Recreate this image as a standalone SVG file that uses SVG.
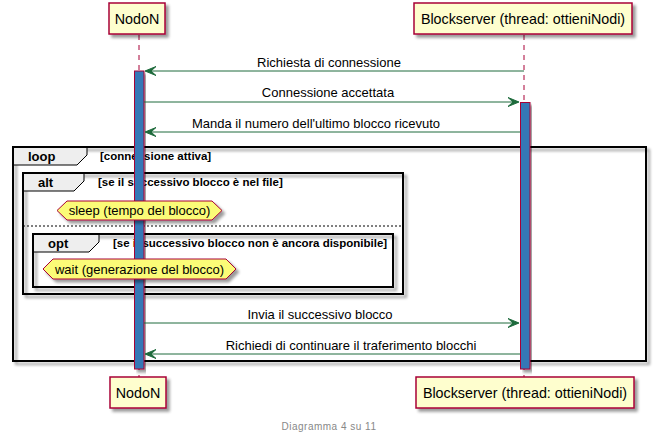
<svg xmlns="http://www.w3.org/2000/svg" width="655" height="441" viewBox="0 0 655 441">
<style>
.box{fill:#FEFECE;stroke:#A80036;stroke-width:1.5}
.pt{font-family:"Liberation Sans",Arial,sans-serif;font-size:14.3px;fill:#000}
.life{stroke:#A80036;stroke-width:1;stroke-dasharray:5,5}
.act{fill:#3478B6;stroke:#A80036;stroke-width:1}
.msg{stroke:#1E6B3C;stroke-width:1;fill:none}
.head{fill:#1E6B3C;stroke:#1E6B3C;stroke-width:1}
.mt{font-family:"Liberation Sans",Arial,sans-serif;font-size:13px;fill:#000}
.frame{fill:none;stroke:#000;stroke-width:2}
.tab{fill:#EEEEEE;stroke:#000;stroke-width:1}
.ft{font-family:"Liberation Sans",Arial,sans-serif;font-size:13px;font-weight:bold;fill:#000}
.ct{font-family:"Liberation Sans",Arial,sans-serif;font-size:11.5px;font-weight:bold;fill:#000}
.hex{fill:#FBFB77;stroke:#A80036;stroke-width:1}
.ht{font-family:"Liberation Sans",Arial,sans-serif;font-size:13px;fill:#000}
</style>
<defs>
<filter id="sh" x="-10%" y="-10%" width="130%" height="140%">
<feGaussianBlur in="SourceAlpha" stdDeviation="1.5"/>
<feOffset dx="3" dy="3" result="o"/>
<feComponentTransfer><feFuncA type="linear" slope="0.4"/></feComponentTransfer>
<feMerge><feMergeNode/><feMergeNode in="SourceGraphic"/></feMerge>
</filter>
</defs>
<rect width="655" height="441" fill="#fff"/>
<g id="lifelines">
<line class="life" x1="139" y1="35" x2="139" y2="377"/>
<line class="life" x1="524" y1="35" x2="524" y2="377"/>
</g>
<g id="frames">
<g id="loop">
<rect class="frame" x="13" y="147" width="633" height="214" filter="url(#sh)"/>
<path class="tab" d="M13,147 L87,147 L87,155 L77,165 L13,165 Z"/>
<rect class="frame" x="13" y="147" width="633" height="214"/>
<text class="ft" x="28" y="161">loop</text>
<text class="ct" x="100" y="160">[connessione attiva]</text>
</g>
<g id="alt">
<rect class="frame" x="23" y="173" width="380" height="121" fill="#fff" filter="url(#sh)"/>
<path class="tab" d="M23,173 L84,173 L84,181 L74,191 L23,191 Z"/>
<rect class="frame" x="23" y="173" width="380" height="121"/>
<text class="ft" x="38" y="187">alt</text>
<text class="ct" x="98" y="186">[se il successivo blocco è nel file]</text>
<line x1="23" y1="226" x2="403" y2="226" stroke="#000" stroke-width="1" stroke-dasharray="2,2"/>
</g>
<g id="opt">
<rect class="frame" x="33" y="234" width="360" height="53" filter="url(#sh)"/>
<path class="tab" d="M33,234 L99,234 L99,242 L89,252 L33,252 Z"/>
<rect class="frame" x="33" y="234" width="360" height="53"/>
<text class="ft" x="48" y="248">opt</text>
<text class="ct" x="113" y="247">[se il successivo blocco non è ancora disponibile]</text>
</g>
</g>
<g id="activations">
<rect class="act" x="134.5" y="71" width="9.5" height="298" filter="url(#sh)"/>
<rect class="act" x="520.5" y="102.5" width="9.5" height="266.5" filter="url(#sh)"/>
</g>
<g id="NodoN">
<rect class="box" x="109" y="3" width="56" height="31" filter="url(#sh)"/>
<text class="pt" x="137" y="24" text-anchor="middle">NodoN</text>
<rect class="box" x="110" y="377" width="56" height="31" filter="url(#sh)"/>
<text class="pt" x="138" y="398" text-anchor="middle">NodoN</text>
</g>
<g id="Blockserver">
<rect class="box" x="414" y="3" width="218" height="31" filter="url(#sh)"/>
<text class="pt" x="523" y="24" text-anchor="middle">Blockserver (thread: ottieniNodi)</text>
<rect class="box" x="416" y="377" width="218" height="31" filter="url(#sh)"/>
<text class="pt" x="525" y="398" text-anchor="middle">Blockserver (thread: ottieniNodi)</text>
</g>
<g id="connectors">
<line class="msg" x1="524" y1="71" x2="146" y2="71"/>
<polygon class="head" points="145,71 156,66.5 151,71 156,75.5"/>
<text class="mt" x="329" y="67" text-anchor="middle">Richiesta di connessione</text>
<line class="msg" x1="144" y1="102" x2="518" y2="102"/>
<polygon class="head" points="519,102 508,97.5 513,102 508,106.5"/>
<text class="mt" x="328" y="97" text-anchor="middle">Connessione accettata</text>
<line class="msg" x1="520" y1="132" x2="146" y2="132"/>
<polygon class="head" points="145,132 156,127.5 151,132 156,136.5"/>
<text class="mt" x="316" y="128" text-anchor="middle">Manda il numero dell'ultimo blocco ricevuto</text>
<line class="msg" x1="144" y1="323" x2="518" y2="323"/>
<polygon class="head" points="519,323 508,318.5 513,323 508,327.5"/>
<text class="mt" x="320" y="319" text-anchor="middle">Invia il successivo blocco</text>
<line class="msg" x1="520" y1="354" x2="146" y2="354"/>
<polygon class="head" points="145,354 156,349.5 151,354 156,358.5"/>
<text class="mt" x="351" y="350" text-anchor="middle">Richiedi di continuare il traferimento blocchi</text>
</g>
<g id="sleep">
<polygon class="hex" points="57,210.5 67,201 212,201 222,210.5 212,220 67,220" filter="url(#sh)"/>
<text class="ht" x="139.5" y="215" text-anchor="middle">sleep (tempo del blocco)</text>
</g>
<g id="wait">
<polygon class="hex" points="43,269 53,259 226,259 236,269 226,279 53,279" filter="url(#sh)"/>
<text class="ht" x="139.5" y="273.5" text-anchor="middle">wait (generazione del blocco)</text>
</g>
<text x="329" y="430" text-anchor="middle" font-family="Liberation Sans,Arial,sans-serif" font-size="10" fill="#888888" letter-spacing="0.5">Diagramma 4 su 11</text>
</svg>
